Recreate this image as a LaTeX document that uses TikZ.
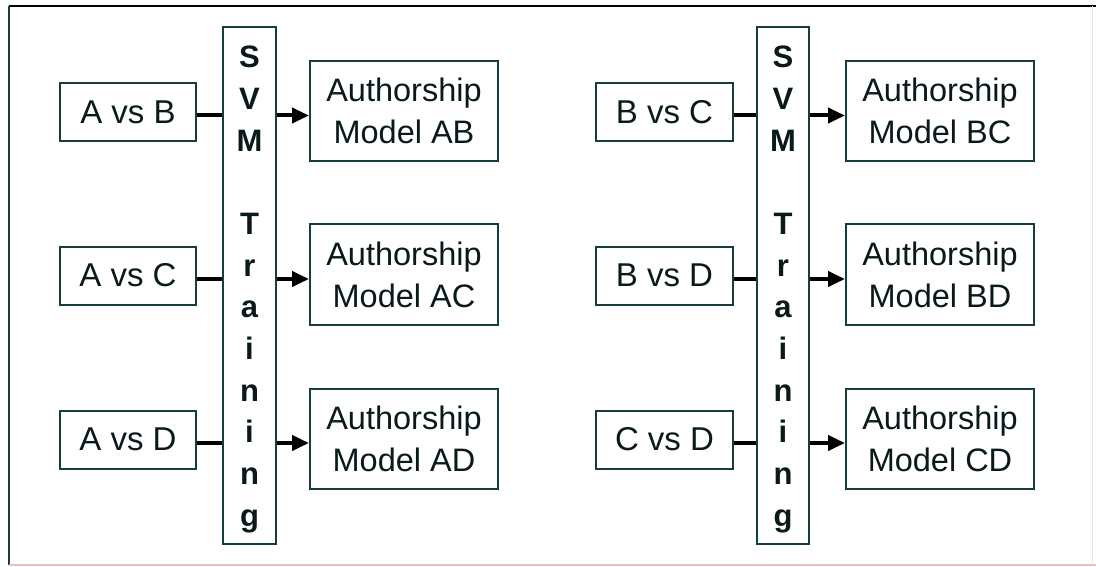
\documentclass[tikz,border=0pt]{standalone}
\usepackage{fontspec}
\setmainfont{Liberation Sans}
\usetikzlibrary{arrows.meta}
\definecolor{boxc}{RGB}{22,62,62}
\definecolor{inkc}{RGB}{10,26,26}
\definecolor{framepink}{RGB}{236,190,190}
\begin{document}
\begin{tikzpicture}[x=1pt,y=-1pt,
  pairbox/.style={draw=boxc,line width=2pt,inner sep=0pt,text=inkc,
    minimum height=58pt,font=\fontsize{33}{40}\selectfont},
  modelbox/.style={draw=boxc,line width=2pt,inner sep=0pt,text=inkc,align=center,
    minimum width=188pt,minimum height=100pt,font=\fontsize{32.5}{42}\selectfont},
  svmbar/.style={draw=boxc,line width=2pt,inner sep=0pt,minimum height=517pt},
  svmtext/.style={inner sep=0pt,align=center,text=inkc,
    font=\fontsize{31}{41.7}\selectfont\bfseries},
  link/.style={line width=4pt,black},
  feed/.style={line width=4pt,black,-{Triangle[length=17pt,width=15pt]}}]
\useasboundingbox (0,0) rectangle (1096,567);
\fill[white] (0,0) rectangle (1096,567);
% frame
\draw[line width=2pt,black] (9,6) -- (1096,6);
\draw[line width=2pt,boxc] (9,6) -- (9,565);
\draw[line width=1.5pt,framepink] (9,565) -- (1096,565);
\draw[line width=1pt,framepink!50] (1092,6) -- (1092,565);

% left group
\node[pairbox,minimum width=136pt] (ab) at (128,112) {A vs B};
\node[pairbox,minimum width=136pt] (ac) at (128,275.5) {A vs C};
\node[pairbox,minimum width=136pt] (ad) at (128,439.5) {A vs D};
\node[svmbar,minimum width=53pt] (svmL) at (249.5,285.5) {};
\node[svmtext] (svmLt) at ([yshift=-4pt]svmL.center)
  {S\\V\\M\\\mbox{}\\T\\r\\a\\i\\n\\i\\n\\g};
\node[modelbox] (mab) at (404,111) {Authorship\\Model AB};
\node[modelbox] (mac) at (404,274.5) {Authorship\\Model AC};
\node[modelbox] (mad) at (404,439) {Authorship\\Model AD};

% right group
\node[pairbox,minimum width=137pt] (bc) at (664.5,112) {B vs C};
\node[pairbox,minimum width=137pt] (bd) at (664.5,275.5) {B vs D};
\node[pairbox,minimum width=137pt] (cd) at (664.5,439.5) {C vs D};
\node[svmbar,minimum width=52pt] (svmR) at (783,285.5) {};
\node[svmtext] (svmRt) at ([yshift=-4pt]svmR.center)
  {S\\V\\M\\\mbox{}\\T\\r\\a\\i\\n\\i\\n\\g};
\node[modelbox] (mbc) at (940,111) {Authorship\\Model BC};
\node[modelbox] (mbd) at (940,274.5) {Authorship\\Model BD};
\node[modelbox] (mcd) at (940,439) {Authorship\\Model CD};

% connectors
\foreach \p/\bar/\m in {ab/svmL/mab,ac/svmL/mac,ad/svmL/mad,bc/svmR/mbc,bd/svmR/mbd,cd/svmR/mcd}{
  \draw[link] ([yshift=-3.5pt]\p.east) -- ([yshift=-3.5pt]\p.east -| \bar.west);
  \draw[feed] ([yshift=-3.5pt]\p.east -| \bar.east) -- ([yshift=-3.5pt]\p.east -| \m.west);
}
\end{tikzpicture}
\end{document}
